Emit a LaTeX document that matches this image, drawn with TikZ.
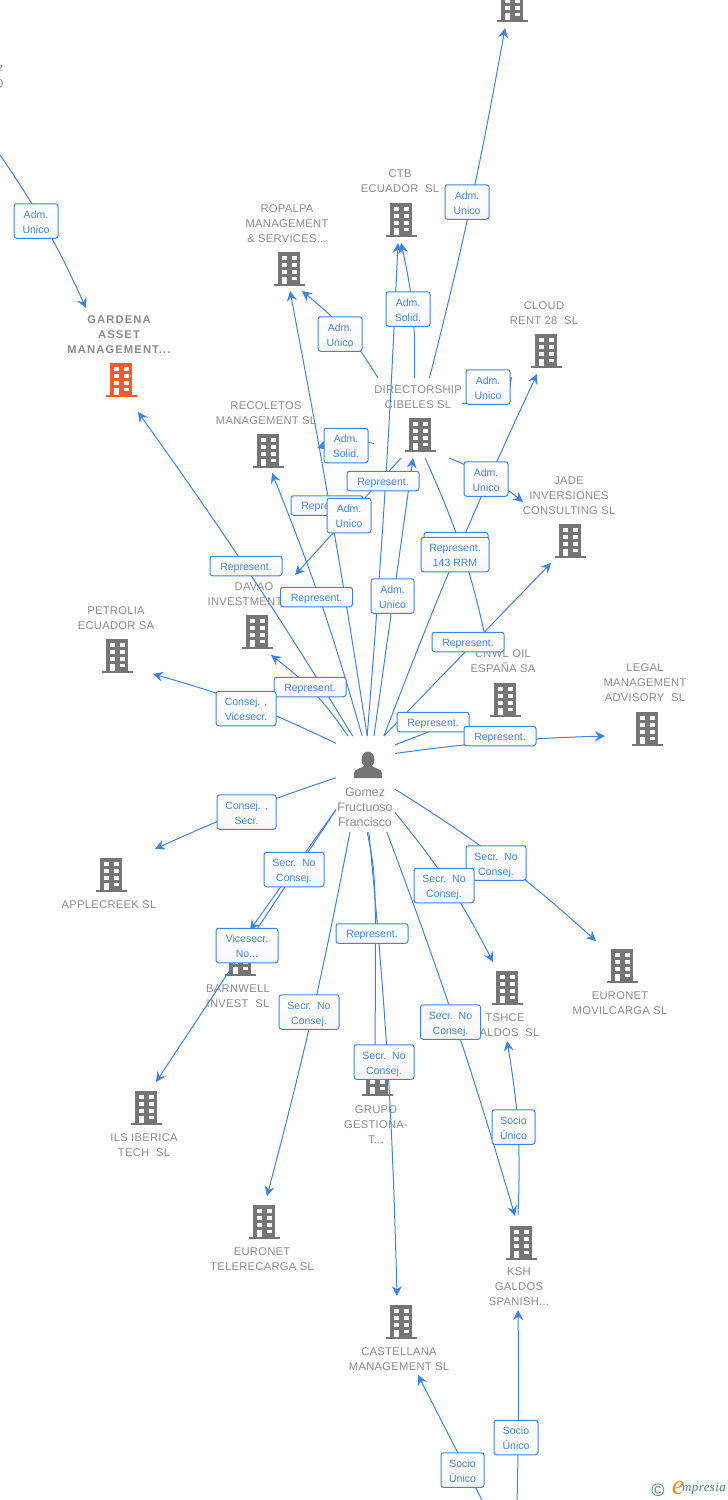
\documentclass[tikz,border=0pt]{standalone}
\usepackage{fontspec}
\setmainfont{Liberation Sans}
\newfontfamily\namefont[LetterSpace=2.5]{Liberation Sans}
\newfontfamily\namebold[LetterSpace=10]{Liberation Sans}
\newfontfamily\logofont[LetterSpace=3]{Liberation Serif}
\usetikzlibrary{arrows.meta}
\definecolor{linkblue}{HTML}{3F83E2}
\definecolor{tagtext}{HTML}{3F83E2}
\definecolor{icongray}{HTML}{757575}
\definecolor{iconorange}{HTML}{FF5A2B}
\definecolor{namegray}{HTML}{8A8A8A}
\definecolor{logoteal}{HTML}{3F7F93}
\definecolor{logoorange}{HTML}{F08A1D}
\tikzset{
	company/.style={align=center,text=namegray,inner sep=0pt,yshift=-1pt,font=\namefont\fontsize{11.2}{15}\selectfont},
	hitbox/.style={rectangle,inner sep=0pt,outer sep=0pt,minimum width=#1},
	link/.style={line width=1pt,draw=linkblue,-{Stealth[length=10pt,width=10pt,inset=3.5pt]}},
	tag/.style={draw=linkblue,line width=1pt,rounded corners=2.5pt,top color=white,bottom color=black!2!blue!3!white,
		text=tagtext,align=center,inner sep=0pt,minimum width=72pt,minimum height=19.5pt,text height=8.4pt,text depth=0pt,
		font=\fontsize{10.5}{15}\selectfont},
	tagtwo/.style={tag,minimum width=#1,minimum height=34.5pt,text height=24.6pt},
	pics/officeblock/.style={code={
		\fill[#1] (-11,-17) rectangle (11,15);
		\fill[#1] (-15.5,14.5) rectangle (15.5,17);
		\foreach \wy in {-13,-6.5,0.5} {
			\fill[white] (-7.5,\wy) rectangle (-2,\wy+4);
			\fill[white] (2.5,\wy) rectangle (8,\wy+4);
		}
		\fill[white] (-7.5,7.5) rectangle (-2,14.5);
		\fill[white] (2.5,7.5) rectangle (8,11.3);
	}},
	pics/personicon/.style={code={
		\fill[icongray] (0,-5.5) ellipse (6.5 and 8);
		\fill[icongray] (-14,13) -- (-14,8) .. controls (-14,4) and (-6,3) .. (-4,1) -- (4,1)
			.. controls (6,3) and (14,4) .. (14,8) -- (14,13) -- cycle;
	}}
}
\begin{document}
\begin{tikzpicture}[x=1pt,y=-1pt]
	\useasboundingbox (0,0) rectangle (728,1500);
	% building icons
	\foreach \bx/\by in {512/5,401/220,546/351,289/269,268/451,420/435,570/541,257/632,117/656,505/700,
		647/729,111/875,240/959,622/966,507/988,146/1108,377/1079,264/1222,521/1243,401/1322}
		\pic at (\bx,\by) {officeblock=icongray};
	\pic at (121,380) {officeblock=iconorange};
	\pic at (368,765) {personicon};
	% names
	\draw (3.5,68) node[company,anchor=east] (cutz) {z};
	\draw (3.5,83) node[company,anchor=east] (cuto) {0};
	\draw (400,180.5) node[company] (ctb) {CTB\\ECUADOR~~SL};
	\draw (287,223) node[company] (ropalpa) {ROPALPA\\MANAGEMENT\\\& SERVICES...};
	\draw (119,334) node[company,font=\namebold\fontsize{11.2}{15}\selectfont\bfseries] (gardena) {GARDENA\\ASSET\\MANAGEMENT...};
	\draw (266,412.5) node[company] (recoletos) {RECOLETOS\\MANAGEMENT SL};
	\draw (418,396.5) node[company] (cibeles) {DIRECTORSHIP\\CIBELES SL};
	\draw (544,312.5) node[company] (cloud) {CLOUD\\RENT 28~~SL};
	\draw (569,495) node[company] (jade) {JADE\\INVERSIONES\\CONSULTING SL};
	\draw (254,593.5) node[company] (davao) {DAVAO\\INVESTMENTS...};
	\draw (116,617.5) node[company] (petrolia) {PETROLIA\\ECUADOR SA};
	\draw (503,660.5) node[company] (cnwl) {CNWL OIL\\ESPAÑA SA};
	\draw (645,682) node[company] (legal) {LEGAL\\MANAGEMENT\\ADVISORY~~SL};
	\draw (109,904) node[company] (applecreek) {APPLECREEK SL};
	\draw (238,995.5) node[company] (barnwell) {BARNWELL\\INVEST~~SL};
	\draw (620,1002.5) node[company] (movilcarga) {EURONET\\MOVILCARGA SL};
	\draw (505,1024.5) node[company] (tshce) {TSHCE\\GALDOS~~SL};
	\draw (144,1144.5) node[company] (ils) {ILS IBERICA\\TECH~~SL};
	\draw (376,1124) node[company] (grupo) {GRUPO\\GESTIONA-\\T...};
	\draw (262,1258.5) node[company] (telerecarga) {EURONET\\TELERECARGA SL};
	\draw (519,1286) node[company] (ksh) {KSH\\GALDOS\\SPANISH...};
	\draw (399,1358.5) node[company] (castellana) {CASTELLANA\\MANAGEMENT SL};
	\draw (365,806) node[company,font=\fontsize{12.4}{15}\selectfont] (gomezname) {Gomez\\Fructuoso\\Francisco};
	% invisible boxes the lines leave from
	\node[hitbox=59pt,minimum height=96pt] (gomez) at (365.5,784) {};
	\node[hitbox=88pt,minimum height=80pt] (dirbox) at (418,418) {};
	% arrow ends
	\foreach \tname/\tx/\ty in {toptip/505/28,ctbtipa/401/243,ctbtipb/398/243,ropalpatipa/302/291,ropalpatipb/290/291,
		recoletostipa/317/448,recoletostipb/272/473,gardenatipa/86/308,gardenatipb/138/412,davaotipa/295/575,davaotipb/271/655,
		dirtip/413/458,cloudtipa/512/377,cloudtipb/537/374,jadetipa/523/502,jadetipb/551/563,cnwltipa/487/645,cnwltipb/470/716,
		legaltip/605/736,petroliatip/153/674,appletip/155/849,barnwelltip/250/930,ilstip/156/1082,teletip/267/1196,
		grupotip/375/1058,castellanatipa/397/1296,castellanatipb/418/1375,kshtipa/515/1216,kshtipb/518/1310,
		tshcetipa/493/962,tshcetipb/507/1041,moviltip/596/941,
		kshstart/518/1215,offtop/-4/149,offbottoma/517/1504,offbottomb/484/1504}
		\coordinate (\tname) at (\tx,\ty);
	% lines from the person
	\draw[link] (gomez.110) to[bend right=9] (davaotipb);
	\draw[link] (gomez.105.7) to[bend right=2] (gardenatipb);
	\draw[link] (gomez.94) to[bend right=3] (recoletostipb);
	\draw[link] (gomez.88) to[bend right=1] (ropalpatipb);
	\draw[link] (gomez.88) to[bend right=1] (ctbtipb);
	\draw[link] (gomez.80) -- (dirtip);
	\draw[link] (gomez.69) to[bend left=2] (cloudtipb);
	\draw[link] (gomez.69) -- (jadetipb);
	\draw[link] (gomez.53.6) -- (cnwltipb);
	\draw[link] (gomez.46.4) to[bend left=3] (legaltip);
	\draw[link] (gomez.126) to[bend right=5] (petroliatip);
	\draw[link] (gomez.168.5) to[bend right=3] (appletip);
	\draw[link] (gomez.221.4) -- (barnwelltip);
	\draw[link] (gomez.221.4) -- (ilstip);
	\draw[link] (gomez.252) to[bend left=2] (teletip);
	\draw[link] (gomez.272) .. controls (376,875) .. (grupotip);
	\draw[link] (gomez.274) to[bend left=2] (castellanatipa);
	\draw[link] (gomez.294) to[bend left=2] (kshtipa);
	\draw[link] (gomez.316.5) to[bend left=6] (tshcetipa);
	\draw[link] (gomez.350.4) to[bend left=5] (moviltip);
	% lines from directorship
	\draw[link] (dirbox.74.6) to[bend right=2] (toptip);
	\draw[link] (dirbox.95.7) to[bend right=7] (ctbtipa);
	\draw[link] (dirbox.135.7) to[bend right=10] (ropalpatipa);
	\draw[link] (dirbox.210.6) to[bend right=14] (recoletostipa);
	\draw[link] (dirbox.18.8) to[bend right=25] (cloudtipa);
	\draw[link] (dirbox.-52.4) to[bend left=8] (jadetipa);
	\draw[link] (dirbox.-80) to[bend left=6] (cnwltipa);
	\draw[link] (dirbox.-113.5) -- (davaotipa);
	% other lines
	\draw[link] (kshstart) to[bend right=6] (tshcetipb);
	\draw[link] (offbottoma) to[bend right=1] (kshtipb);
	\draw[link] (offbottomb) -- (castellanatipb);
	\draw[link] (offtop) to[bend left=5] (gardenatipa);
	% labels on the lines
	\node[tagtwo=44pt] (tagtl) at (36,221) {Adm.\\Unico};
	\node[tagtwo=44pt] (tagtop) at (467,202) {Adm.\\Unico};
	\node[tagtwo=44pt] (tagctb) at (408,309) {Adm.\\Solid.};
	\node[tagtwo=44pt] (tagropalpa) at (340,334) {Adm.\\Unico};
	\node[tagtwo=44pt] (tagcloud) at (488,387) {Adm.\\Unico};
	\node[tagtwo=44pt] (tagrecoletos) at (346,445.5) {Adm.\\Solid.};
	\node[tagtwo=44pt] (tagjade) at (486,479) {Adm.\\Unico};
	\node[tag] (repa) at (327,505.5) {Represent.};
	\node[tagtwo=44pt] (tagdavao) at (349,515.5) {Adm.\\Unico};
	\node[tag] (repb) at (383,481) {Represent.};
	\node[tag,minimum width=64pt] (repc) at (456,542) {};
	\node[tagtwo=68pt] (repd) at (455,554.5) {Represent.\\143 RRM};
	\node[tag] (repe) at (246,566) {Represent.};
	\node[tag] (repf) at (316.5,597) {Represent.};
	\node[tagtwo=43pt] (tagmid) at (392.5,596) {Adm.\\Unico};
	\node[tag] (repg) at (468,642) {Represent.};
	\node[tag] (reph) at (310,687) {Represent.};
	\node[tagtwo=60pt] (tagpetrolia) at (246,708.5) {Consej. ,\\Vicesecr.};
	\node[tag] (repi) at (433,722) {Represent.};
	\node[tag] (repj) at (500,736) {Represent.};
	\node[tagtwo=59pt] (tagapple) at (246.5,812) {Consej. ,\\Secr.};
	\node[tagtwo=60pt] (tagbarnwell) at (294,869.5) {Secr.~~No\\Consej.};
	\node[tagtwo=62pt] (tagils) at (247,945.5) {Vicesecr.\\No...};
	\node[tagtwo=60pt] (tagmovil) at (496,863) {Secr.~~No\\Consej.};
	\node[tagtwo=60pt] (tagtshce) at (444,885.5) {Secr.~~No\\Consej.};
	\node[tag] (repk) at (372,933.5) {Represent.};
	\node[tagtwo=60pt] (tagtele) at (309,1012) {Secr.~~No\\Consej.};
	\node[tagtwo=60pt] (tagksh) at (450.5,1022) {Secr.~~No\\Consej.};
	\node[tagtwo=60pt] (tagcastellana) at (384,1062) {Secr.~~No\\Consej.};
	\node[tagtwo=43pt] (sociotshce) at (513.5,1127) {Socio\\Único};
	\node[tagtwo=44pt] (socioksh) at (516,1437.5) {Socio\\Único};
	\node[tagtwo=43pt] (sociocastellana) at (462.5,1470) {Socio\\Único};
	% logo
	\draw (658,1490) node[text=logoteal,inner sep=0pt,font=\fontsize{18}{18}\selectfont] (logoc) {©};
	\draw (678,1488) node[text=logoorange,inner sep=0pt,font=\logofont\fontsize{28}{28}\selectfont\itshape] (logoe) {e};
	\draw (704,1489) node[text=logoteal,inner sep=0pt,font=\logofont\fontsize{13}{13}\selectfont\itshape] (logorest) {mpresia};
\end{tikzpicture}
\end{document}
